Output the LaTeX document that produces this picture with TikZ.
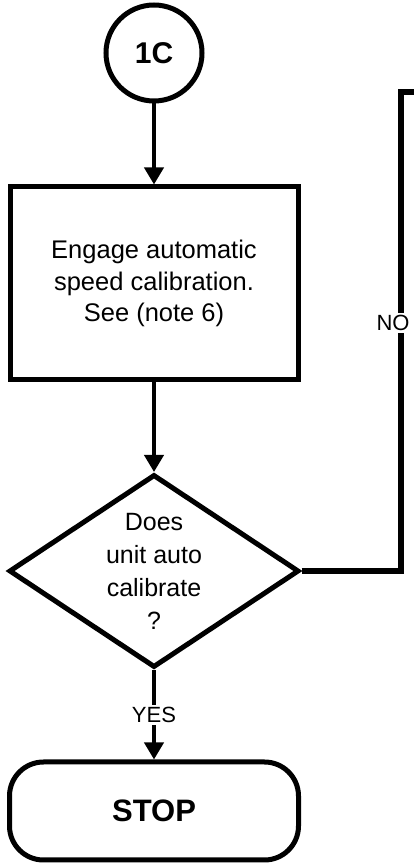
\documentclass[tikz,border=0pt]{standalone}
\usepackage{fontspec}
\setmainfont{Liberation Sans}
\usetikzlibrary{arrows.meta, shapes.geometric}

\begin{document}
\begin{tikzpicture}[x=1pt, y=1pt, >={Triangle[length=17pt, width=19pt]},
    shapebox/.style={draw, line width=5pt, align=center, inner sep=0pt},
    flow/.style={->, line width=4pt},
    lbl/.style={fill=white, inner sep=2pt, font=\fontsize{22}{24}\selectfont}]
    \useasboundingbox (0,0) rectangle (414,863);
    % Off-page connector
    \node[shapebox, circle, minimum size=96pt,
          font=\bfseries\fontsize{30}{32}\selectfont] (c1) at (154,810) {1C};
    % Process box
    \node[shapebox, rectangle, minimum width=288pt, minimum height=193pt,
          font=\fontsize{25.5}{31.5}\selectfont] (engage) at (154,579.5)
      {Engage automatic\\speed calibration.\\See (note 6)};
    % Decision
    \node[shapebox, diamond, aspect=1.5, minimum width=290pt, minimum height=193pt,
          font=\fontsize{25}{33}\selectfont] (calib) at (154,292)
      {Does\\unit auto\\calibrate\\?};
    % Terminator
    \node[shapebox, rectangle, rounded corners=34pt, minimum width=289pt,
          minimum height=98pt, font=\bfseries\fontsize{31}{33}\selectfont]
      (stop) at (154,52) {STOP};
    % Connectors
    \draw[flow] (c1) -- (engage);
    \draw[flow] (engage) -- (calib);
    \draw[flow] (calib) -- node[lbl] (yes) {YES} (stop);
    % NO branch leaves the page at the top right
    \coordinate (rt) at (401,771);
    \coordinate (rtend) at (420,771);
    \draw[line width=5.5pt] (calib.east) -| (rt) -- (rtend);
    \node[lbl] (no) at (393,540) {NO};
\end{tikzpicture}
\end{document}
